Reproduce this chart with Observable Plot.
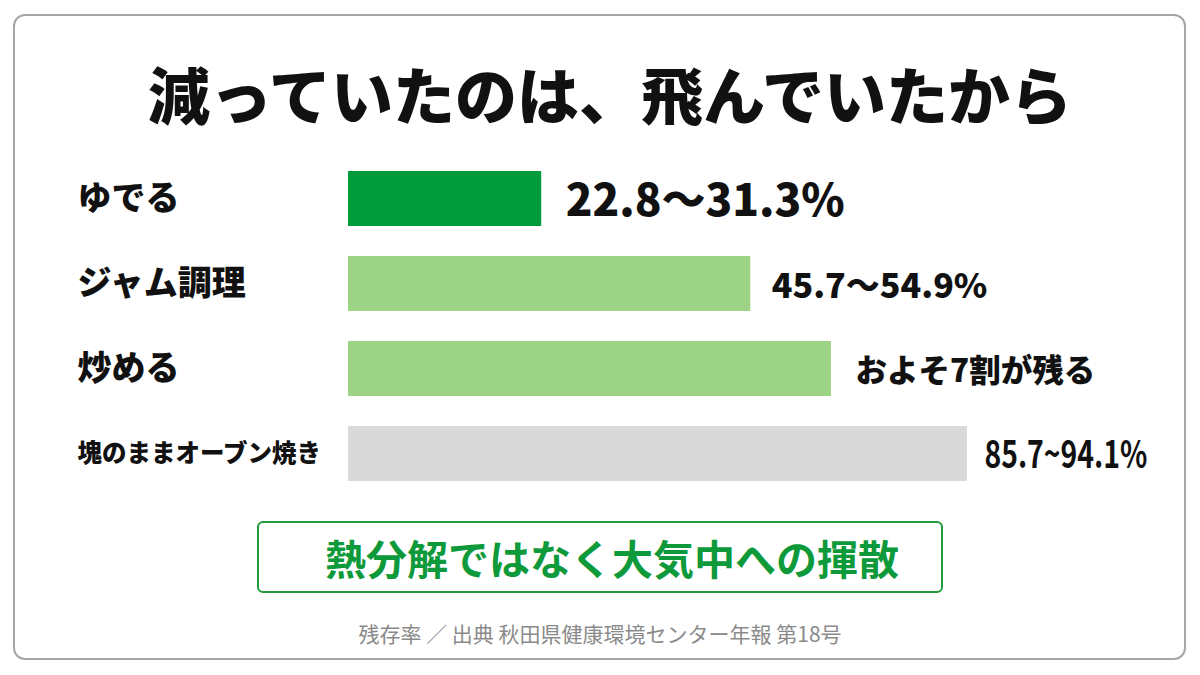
<!DOCTYPE html>
<html lang="ja">
<head>
<meta charset="utf-8">
<script src="https://cdn.jsdelivr.net/npm/d3@7"></script>
<script src="https://cdn.jsdelivr.net/npm/@observablehq/plot@0.6"></script>
<style>
  html, body { margin: 0; padding: 0; background: #fff; }
  body { width: 1200px; height: 675px; position: relative; overflow: hidden;
         font-family: "Noto Sans CJK JP", "Noto Sans", sans-serif; color: #111; }
  #card { position: absolute; left: 13px; top: 14px; width: 1169px; height: 642px;
          border: 2px solid #a6a6a6; border-radius: 12px; box-sizing: content-box; }
  #title { position: absolute; left: 0; top: 50px; width: 1200px; box-sizing: border-box;
           padding-left: 20px; text-align: center; font-size: 62px; font-weight: 900;
           line-height: 86px; letter-spacing: 0; margin: 0; }
  #chart { position: absolute; left: 0; top: 139px; }
  #note { position: absolute; left: 257px; top: 521px; width: 682px; height: 68px;
          border: 2px solid #1f9a3c; border-radius: 6px; color: #0e9a3a;
          font-size: 41px; font-weight: 700; text-align: center; line-height: 68px;
          box-sizing: content-box; padding-left: 0; }
  #note span { position: relative; left: 12px; }
  #caption { position: absolute; left: 0; top: 619px; width: 1200px; text-align: center;
             color: #8a8a8a; font-size: 21px; line-height: 28px; }
</style>
</head>
<body>
<div id="card"></div>
<h1 id="title">減っていたのは、飛んでいたから</h1>
<div id="chart"></div>
<div id="note"><span>熱分解ではなく大気中への揮散</span></div>
<div id="caption">残存率 ／ 出典 秋田県健康環境センター年報 第18号</div>
<script>
const categories = ["ゆでる", "ジャム調理", "炒める", "塊のままオーブン焼き"];
const barValues = [28, 58.3, 70, 89.7];
const rangeLabels = ["22.8～31.3%", "45.7〜54.9%", "およそ7割が残る", "85.7~94.1%"];
const barColors = ["#009b3a", "#9dd384", "#9dd384", "#d9d9d9"];

const rows = categories.map((c, i) => ({category: c, value: barValues[i], label: rangeLabels[i]}));
const jp = "'Noto Sans CJK JP', 'Noto Sans', sans-serif";

const chart = Plot.plot({
  width: 1200,
  height: 374,
  marginLeft: 348,
  marginRight: 162,
  marginTop: 0,
  marginBottom: 0,
  style: {fontFamily: jp, background: "transparent", overflow: "visible"},
  x: {domain: [0, 100], axis: null},
  y: {domain: categories, padding: 0.358, axis: null},
  color: {domain: categories, range: barColors},
  marks: [
    Plot.barX(rows, {x: "value", y: "category", fill: "category"}),
    // category labels
    Plot.text(rows, {filter: (d, i) => i < 3, x: 0, y: "category", text: "category",
      textAnchor: "start", dx: -271, fontSize: 34, fontWeight: 900, fill: "#111", fontFamily: jp}),
    Plot.text(rows, {filter: (d, i) => i === 3, x: 0, y: "category", text: "category",
      textAnchor: "start", dx: -271, fontSize: 24.5, fontWeight: 900, fill: "#111", fontFamily: jp}),
    // value labels
    Plot.text(rows, {filter: (d, i) => i === 0, x: "value", y: "category", text: "label",
      textAnchor: "start", dx: 24, dy: 3, fontSize: 44, fontWeight: 900, fill: "#111", fontFamily: jp}),
    Plot.text(rows, {filter: (d, i) => i === 1, x: "value", y: "category", text: "label",
      textAnchor: "start", dx: 21, dy: 3, fontSize: 34, fontWeight: 900, fill: "#111", fontFamily: jp}),
    Plot.text(rows, {filter: (d, i) => i === 2, x: "value", y: "category", text: "label",
      textAnchor: "start", dx: 24, dy: 3, fontSize: 31.5, fontWeight: 900, fill: "#111", fontFamily: jp}),
    Plot.text(rows, {filter: (d, i) => i === 3, x: "value", y: "category", text: "label",
      textAnchor: "start", dx: 17, dy: 2, fontSize: 38, fontWeight: 700, fill: "#111", fontFamily: jp})
  ]
});
document.getElementById("chart").appendChild(chart);
// the last value label is set in a condensed face in the reference: squeeze it horizontally
d3.select(chart).selectAll("text")
  .filter(function() { return this.textContent === rangeLabels[3]; })
  .each(function() {
    const len = this.getComputedTextLength();
    const k = len > 0 ? Math.min(1, 163 / len) : 0.72;
    const x = +this.getAttribute("x") || 0;
    const t = this.getAttribute("transform") || "";
    // scale about the text's own left anchor
    this.setAttribute("transform", `${t} translate(${x},0) scale(${k},1) translate(${-x},0)`);
  });
</script>
</body>
</html>
